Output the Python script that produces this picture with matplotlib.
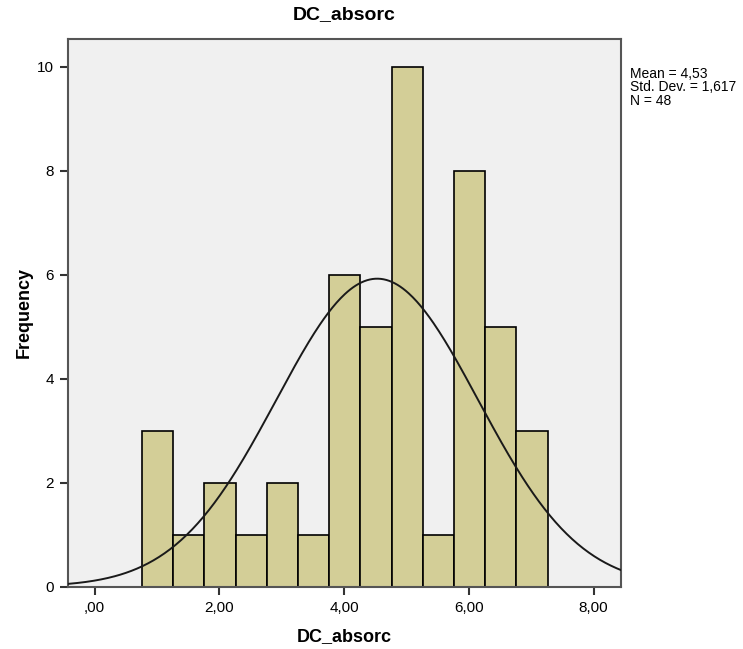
import numpy as np
import matplotlib.pyplot as plt

plt.rcParams['font.family'] = ['Liberation Sans', 'DejaVu Sans']

# histogram of DC_absorc (SPSS output)
bin_start = 0.76
bin_width = 0.5
counts = [3, 1, 2, 1, 2, 1, 6, 5, 10, 1, 8, 5, 3]
mean = 4.53
sd = 1.617
n = 48

xticks = [0, 2, 4, 6, 8]
xticklabels = [',00', '2,00', '4,00', '6,00', '8,00']
yticks = [0, 2, 4, 6, 8, 10]

fig = plt.figure(figsize=(7.43, 6.49), dpi=100)
ax = fig.add_axes([0.0909, 0.096, 0.7445, 0.844])
ax.set_facecolor('#F0F0F0')

lefts = bin_start + bin_width * np.arange(len(counts))
ax.bar(lefts, counts, width=bin_width, align='edge', color='#D3CE97',
       edgecolor='black', linewidth=1.2, zorder=2)

# normal curve scaled to counts
xs = np.linspace(-0.433, 8.433, 400)
ys = n * bin_width / (sd * np.sqrt(2 * np.pi)) * np.exp(-0.5 * ((xs - mean) / sd) ** 2)
ax.plot(xs, ys, color='#1a1a1a', linewidth=1.4, zorder=3)

ax.set_xlim(-0.433, 8.433)
ax.set_ylim(0, 10.53)
ax.set_xticks(xticks)
ax.set_xticklabels(xticklabels)
ax.set_yticks(yticks)
ax.tick_params(direction='out', length=6, width=1.5, color='#333333',
               labelsize=11, pad=4)
for s in ax.spines.values():
    s.set_color('#555555')
    s.set_linewidth(1.5)

ax.set_title('DC_absorc', fontsize=14, fontweight='bold', pad=14)
ax.set_xlabel('DC_absorc', fontsize=13, fontweight='bold', labelpad=10)
ax.set_ylabel('Frequency', fontsize=13, fontweight='bold', labelpad=3)

fig.text(0.848, 0.897, 'Mean = 4,53\nStd. Dev. = 1,617\nN = 48',
         fontsize=10, va='top', ha='left', linespacing=0.95)

fig.savefig('out.png', dpi=100)
